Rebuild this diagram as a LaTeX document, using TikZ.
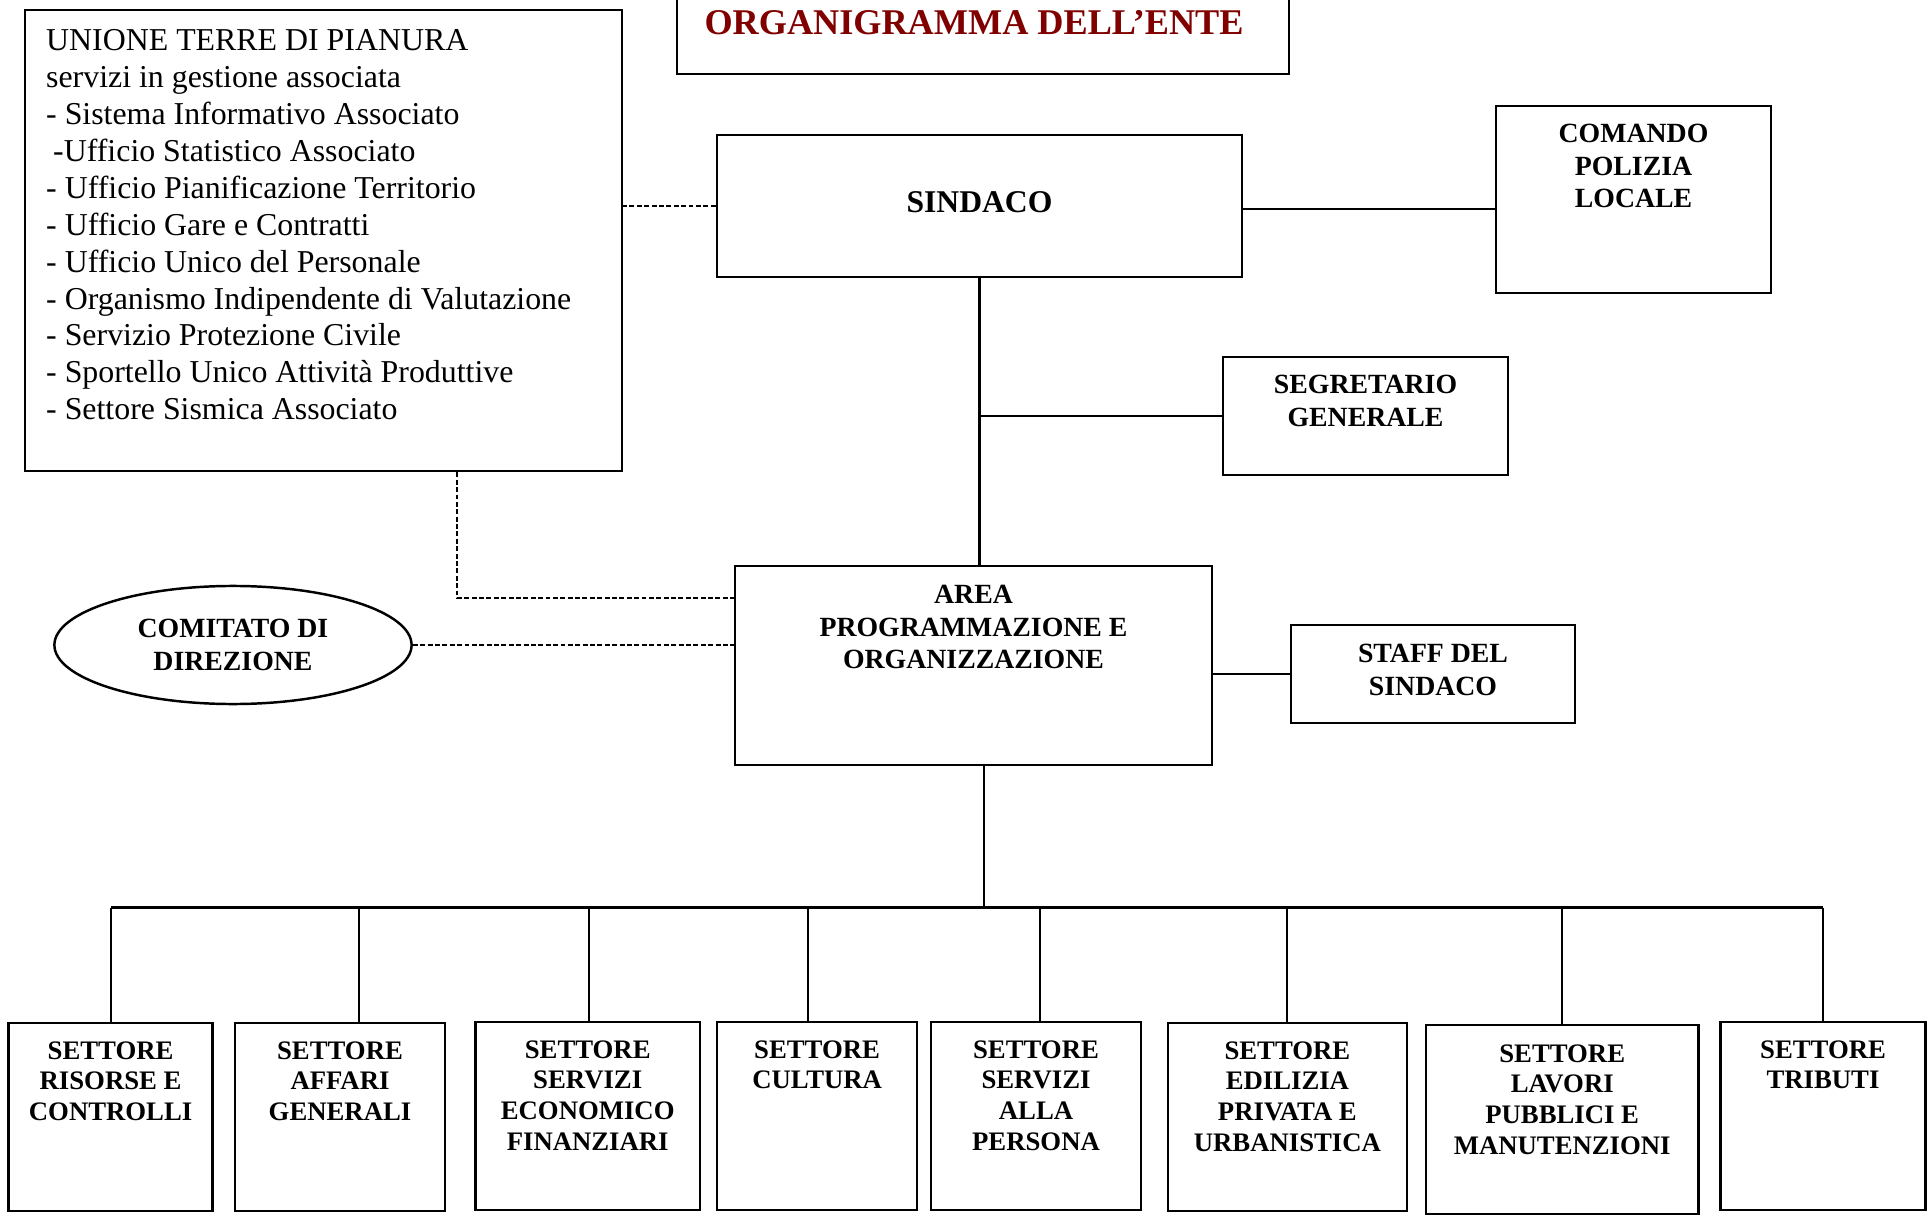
\documentclass[tikz,border=0pt]{standalone}
\usepackage{fontspec}
\setmainfont{Liberation Serif}
\usetikzlibrary{positioning,shapes.geometric}
\definecolor{titlered}{RGB}{128,0,0}
\tikzset{
  box/.style={draw, line width=0.7pt, inner sep=0pt},
  lbl/.style={font=\fontsize{7.9}{9.2}\selectfont\bfseries, align=center, inner sep=0pt},
  slbl/.style={font=\fontsize{7.6}{8.75}\selectfont\bfseries, align=center, inner sep=0pt},
  link/.style={line width=0.6pt},
  dlink/.style={line width=0.6pt, dash pattern=on 1.4pt off 0.7pt}
}
\begin{document}
\begin{tikzpicture}[x=0.01cm, y=-0.01cm]
    \useasboundingbox (0,0) rectangle (1928,1216);
    % titolo
    \node[box, minimum width=6.12cm, minimum height=0.94cm] (title) at (983,27) {};
    \node[font=\fontsize{10.3}{12}\selectfont\bfseries, text=titlered, inner sep=0pt] (titletext) at (974,23) {ORGANIGRAMMA DELL’ENTE};
    % unione terre di pianura
    \node[box, minimum width=5.97cm, minimum height=4.61cm] (unione) at (323.5,240.5) {};
    \node[anchor=north west, align=left, inner sep=0pt, font=\fontsize{9.06}{10.5}\selectfont] (unionetext) at (45.5,28.8) {UNIONE TERRE DI PIANURA\\
      servizi in gestione associata\\
      - Sistema Informativo Associato\\
      \hspace*{2pt}-Ufficio Statistico Associato\\
      - Ufficio Pianificazione Territorio\\
      - Ufficio Gare e Contratti\\
      - Ufficio Unico del Personale\\
      - Organismo Indipendente di Valutazione\\
      - Servizio Protezione Civile\\
      - Sportello Unico Attività Produttive\\
      - Settore Sismica Associato};
    % vertice
    \node[box, minimum width=5.25cm, minimum height=1.42cm, text depth=0.08cm, font=\fontsize{9}{11}\selectfont\bfseries] (sindaco) at (979.5,206) {SINDACO};
    \node[box, minimum width=2.75cm, minimum height=1.87cm] (comando) at (1633.5,199.5) {};
    \node[lbl, below=0.19cm of comando.north] (comandotext) {COMANDO\\POLIZIA\\LOCALE};
    \node[box, minimum width=2.85cm, minimum height=1.18cm] (segretario) at (1365.5,416) {};
    \node[lbl, below=0.19cm of segretario.north] (segretariotext) {SEGRETARIO\\GENERALE};
    \node[box, minimum width=4.77cm, minimum height=1.99cm] (area) at (973.5,665.5) {};
    \node[lbl, below=0.2cm of area.north] (areatext) {AREA\\PROGRAMMAZIONE E\\ORGANIZZAZIONE};
    \node[box, minimum width=2.84cm, minimum height=0.98cm] (staff) at (1433,674) {};
    \node[lbl, below=0.2cm of staff.north] (stafftext) {STAFF DEL\\SINDACO};
    \node[draw, ellipse, line width=0.7pt, lbl, minimum width=3.57cm, minimum height=1.18cm] (comitato) at (233,645) {COMITATO DI\\DIREZIONE};
    % settori
    \node[box, minimum width=2.04cm, minimum height=1.88cm] (s1) at (110.6,1117) {};
    \node[slbl, below=0.19cm of s1.north] (s1text) {SETTORE\\RISORSE E\\CONTROLLI};
    \node[box, minimum width=2.10cm, minimum height=1.88cm] (s2) at (340,1117) {};
    \node[slbl, below=0.19cm of s2.north] (s2text) {SETTORE\\AFFARI\\GENERALI};
    \node[box, minimum width=2.24cm, minimum height=1.88cm] (s3) at (587.7,1116) {};
    \node[slbl, below=0.19cm of s3.north] (s3text) {SETTORE\\SERVIZI\\ECONOMICO\\FINANZIARI};
    \node[box, minimum width=2.00cm, minimum height=1.88cm] (s4) at (817.1,1116) {};
    \node[slbl, below=0.19cm of s4.north] (s4text) {SETTORE\\CULTURA};
    \node[box, minimum width=2.10cm, minimum height=1.88cm] (s5) at (1036,1116) {};
    \node[slbl, below=0.19cm of s5.north] (s5text) {SETTORE\\SERVIZI\\ALLA\\PERSONA};
    \node[box, minimum width=2.39cm, minimum height=1.88cm] (s6) at (1287.4,1117) {};
    \node[slbl, below=0.19cm of s6.north] (s6text) {SETTORE\\EDILIZIA\\PRIVATA E\\URBANISTICA};
    \node[box, minimum width=2.72cm, minimum height=1.89cm] (s7) at (1562.2,1119.5) {};
    \node[slbl, below=0.2cm of s7.north] (s7text) {SETTORE\\LAVORI\\PUBBLICI E\\MANUTENZIONI};
    \node[box, minimum width=2.05cm, minimum height=1.88cm] (s8) at (1823,1116) {};
    \node[slbl, below=0.19cm of s8.north] (s8text) {SETTORE\\TRIBUTI};
    % collegamenti
    \draw[dlink] (sindaco.west) -- (sindaco.west -| unione.east);
    \draw[link] ([yshift=-0.03cm]sindaco.east) -- ([yshift=-0.03cm]sindaco.east -| comando.west);
    \draw[link] (sindaco.south) -- (sindaco.south |- area.north);
    \draw[link] (segretario.west) -- (segretario.west -| sindaco.south);
    \draw[link] (staff.west) -- (staff.west -| area.east);
    \draw[dlink] (comitato.east) -- (comitato.east -| area.west);
    \coordinate (bend) at (457,598);
    \draw[dlink] (bend |- unione.south) -- (bend) -- (bend -| area.west);
    \coordinate (hub) at (984,907.5);
    \draw[link] (hub |- area.south) -- (hub);
    \foreach \n/\x in {1/111,2/359,3/589,4/808,5/1040,6/1287,7/1562,8/1823}
      \coordinate (d\n) at (\x,907.5);
    \draw[link] (d1) -- (d8);
    \foreach \n in {1,...,8}
      \draw[link] (d\n) -- (d\n |- s\n.north);
\end{tikzpicture}
\end{document}
